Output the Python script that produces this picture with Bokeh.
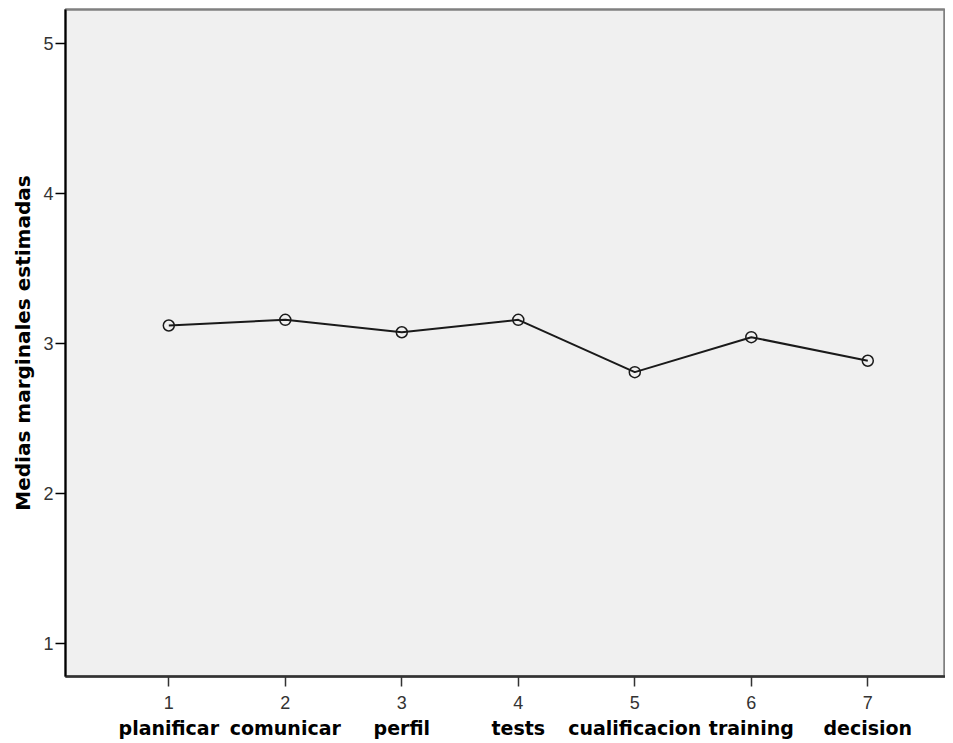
from bokeh.plotting import figure
from bokeh.models import LinearAxis, FixedTicker, Range1d, ColumnDataSource
from bokeh.embed import file_html
from bokeh.resources import INLINE

positions = [1, 2, 3, 4, 5, 6, 7]
categories = ["planificar", "comunicar", "perfil", "tests", "cualificacion", "training", "decision"]
means = [3.118, 3.156, 3.073, 3.156, 2.807, 3.040, 2.883]
y_ticks = [1, 2, 3, 4, 5]
y_label = "Medias marginales estimadas"

src = ColumnDataSource(dict(x=positions, y=means))

p = figure(width=945, height=743, output_backend="svg", toolbar_location=None,
           x_range=Range1d(0.1133, 7.667), y_range=Range1d(0.778, 5.2247),
           x_axis_type=None, y_axis_type=None,
           min_border=0, min_border_left=65, min_border_right=0,
           min_border_top=9, min_border_bottom=67)
p.background_fill_color = "#f0f0f0"
p.border_fill_color = "white"
p.outline_line_color = "#808080"
p.outline_line_width = 2.5
p.xgrid.visible = False
p.ygrid.visible = False

# left axis
yax = LinearAxis(ticker=FixedTicker(ticks=y_ticks), axis_label=y_label)
yax.axis_line_color = "black"
yax.axis_line_width = 2
yax.major_tick_line_color = "black"
yax.major_tick_line_width = 1.5
yax.major_tick_out = 10
yax.major_tick_in = 0
yax.minor_tick_line_color = None
yax.major_label_standoff = 2
yax.major_label_text_font = "Liberation Sans"
yax.major_label_text_font_size = "18px"
yax.major_label_text_color = "#333333"
yax.axis_label_text_font = "DejaVu Sans"
yax.axis_label_text_font_style = "bold"
yax.axis_label_text_font_size = "20px"
yax.axis_label_text_color = "black"
yax.axis_label_standoff = 5
p.add_layout(yax, "left")

# bottom numeric axis
xax = LinearAxis(ticker=FixedTicker(ticks=positions))
xax.axis_line_color = "#333333"
xax.axis_line_width = 2.5
xax.major_tick_line_color = "#333333"
xax.major_tick_line_width = 1.5
xax.major_tick_out = 10
xax.major_tick_in = 0
xax.minor_tick_line_color = None
xax.major_label_standoff = 9
xax.major_label_text_font = "Liberation Sans"
xax.major_label_text_font_size = "18px"
xax.major_label_text_color = "#333333"
p.add_layout(xax, "below")

# bottom category name axis
nax = LinearAxis(ticker=FixedTicker(ticks=positions),
                 major_label_overrides={pos: name for pos, name in zip(positions, categories)})
nax.axis_line_color = None
nax.major_tick_line_color = None
nax.minor_tick_line_color = None
nax.major_tick_out = 0
nax.major_tick_in = 0
nax.major_label_standoff = 5
nax.major_label_text_font = "DejaVu Sans"
nax.major_label_text_font_style = "bold"
nax.major_label_text_font_size = "19px"
nax.major_label_text_color = "black"
p.add_layout(nax, "below")

p.line("x", "y", source=src, line_color="#1a1a1a", line_width=2)
p.scatter("x", "y", source=src, marker="circle", size=11, fill_color=None,
          line_color="#1a1a1a", line_width=1.5)

open("out.html", "w").write(file_html(p, INLINE))
